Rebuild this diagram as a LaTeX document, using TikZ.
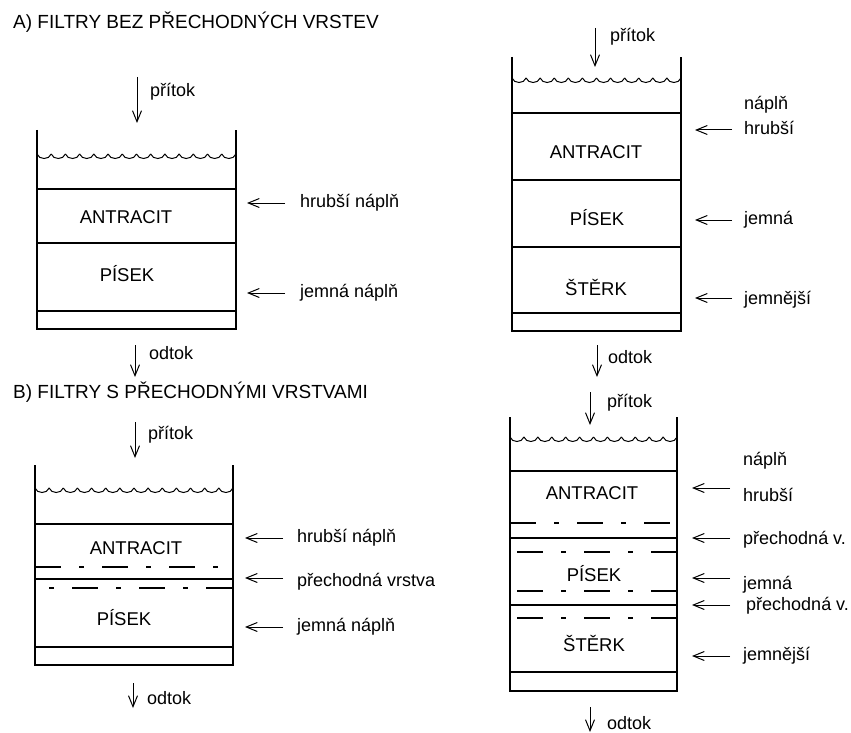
\documentclass[tikz,border=0pt]{standalone}
\usepackage{fontspec}
\setmainfont{Liberation Sans}
\usetikzlibrary{arrows.meta}
\begin{document}
\begin{tikzpicture}[x=1pt,y=-1pt,
  txt/.style={font=\fontsize{18}{20}\selectfont, inner sep=0pt, anchor=west},
  ttl/.style={font=\fontsize{19}{21}\selectfont, inner sep=0pt, anchor=west},
  layer/.style={font=\fontsize{18.5}{20}\selectfont, inner sep=0pt},
  wall/.style={line width=1.3pt, line join=miter},
  sepline/.style={line width=1.1pt},
  wavy/.style={line width=1pt},
  trans/.style={line width=1.1pt, dash pattern=on 26pt off 18pt on 5pt off 18pt},
  flow/.style={line width=1pt, -{Straight Barb[length=11pt,width=9pt]}},
]
\useasboundingbox[fill=white] (0,0) rectangle (851,733);

% ---------- titles ----------
\node[ttl] (titA) at (13,22) {A) FILTRY BEZ PŘECHODNÝCH VRSTEV};
\node[ttl] (titB) at (13,392) {B) FILTRY S PŘECHODNÝMI VRSTVAMI};

% ========== top-left filter ==========
\draw[wall] (37,130) -- (37,329) -- (236,329) -- (236,130);
\foreach \i in {0,...,13}
  \draw[wavy] ({37+\i*14.21},154) .. controls +(2,6) and +(-2,6) .. ({37+(\i+1)*14.21},154);
\draw[sepline] (37,189) -- (236,189);
\draw[sepline] (37,243) -- (236,243);
\draw[sepline] (37,311) -- (236,311);
\node[layer] (tlA) at (126,217) {ANTRACIT};
\node[layer] (tlP) at (127,274) {PÍSEK};
\coordinate (tlIn1) at (137,77); \coordinate (tlIn2) at (137,123);
\draw[flow] (tlIn1) -- (tlIn2);
\node[txt] (tlInT) at (150,92) {přítok};
\coordinate (tlOut1) at (135,345); \coordinate (tlOut2) at (135,377);
\draw[flow] (tlOut1) -- (tlOut2);
\node[txt] (tlOutT) at (149,353) {odtok};
\coordinate (tlL1s) at (285,203); \coordinate (tlL1e) at (247,203);
\draw[flow] (tlL1s) -- (tlL1e);
\node[txt] (tlL1) at (300,203) {hrubší náplň};
\coordinate (tlL2s) at (285,293); \coordinate (tlL2e) at (247,293);
\draw[flow] (tlL2s) -- (tlL2e);
\node[txt] (tlL2) at (300,293) {jemná náplň};

% ========== top-right filter ==========
\draw[wall] (512,57) -- (512,331) -- (681,331) -- (681,57);
\foreach \i in {0,...,11}
  \draw[wavy] ({512+\i*14.08},78) .. controls +(2,6) and +(-2,6) .. ({512+(\i+1)*14.08},78);
\draw[sepline] (512,113) -- (681,113);
\draw[sepline] (512,180) -- (681,180);
\draw[sepline] (512,247) -- (681,247);
\draw[sepline] (512,313) -- (681,313);
\node[layer] (trA) at (596,152) {ANTRACIT};
\node[layer] (trP) at (597,218) {PÍSEK};
\node[layer] (trS) at (596,288) {ŠTĚRK};
\coordinate (trIn1) at (595,28); \coordinate (trIn2) at (595,67);
\draw[flow] (trIn1) -- (trIn2);
\node[txt] (trInT) at (610,37) {přítok};
\coordinate (trOut1) at (597,345); \coordinate (trOut2) at (597,377);
\draw[flow] (trOut1) -- (trOut2);
\node[txt] (trOutT) at (608,357) {odtok};
\node[txt] (trL0) at (744,105) {náplň};
\coordinate (trL1s) at (732,130); \coordinate (trL1e) at (695,130);
\draw[flow] (trL1s) -- (trL1e);
\node[txt] (trL1) at (744,128) {hrubší};
\coordinate (trL2s) at (732,220); \coordinate (trL2e) at (695,220);
\draw[flow] (trL2s) -- (trL2e);
\node[txt] (trL2) at (744,220) {jemná};
\coordinate (trL3s) at (732,298); \coordinate (trL3e) at (695,298);
\draw[flow] (trL3s) -- (trL3e);
\node[txt] (trL3) at (744,300) {jemnější};

% ========== bottom-left filter ==========
\draw[wall] (35,465) -- (35,665) -- (233,665) -- (233,465);
\foreach \i in {0,...,13}
  \draw[wavy] ({35+\i*14.14},488) .. controls +(2,6) and +(-2,6) .. ({35+(\i+1)*14.14},488);
\draw[sepline] (35,524) -- (233,524);
\draw[trans] (35,567) -- (233,567);
\draw[sepline] (35,579) -- (233,579);
\draw[trans, dash phase=30pt] (35,588) -- (233,588);
\draw[sepline] (35,647) -- (233,647);
\node[layer] (blA) at (136,548) {ANTRACIT};
\node[layer] (blP) at (124,618) {PÍSEK};
\coordinate (blIn1) at (135,422); \coordinate (blIn2) at (135,458);
\draw[flow] (blIn1) -- (blIn2);
\node[txt] (blInT) at (148,435) {přítok};
\coordinate (blOut1) at (133,683); \coordinate (blOut2) at (133,708);
\draw[flow] (blOut1) -- (blOut2);
\node[txt] (blOutT) at (147,698) {odtok};
\coordinate (blL1s) at (283,538); \coordinate (blL1e) at (245,538);
\draw[flow] (blL1s) -- (blL1e);
\node[txt] (blL1) at (297,538) {hrubší náplň};
\coordinate (blL2s) at (283,578); \coordinate (blL2e) at (245,578);
\draw[flow] (blL2s) -- (blL2e);
\node[txt] (blL2) at (297,582) {přechodná vrstva};
\coordinate (blL3s) at (283,627); \coordinate (blL3e) at (245,627);
\draw[flow] (blL3s) -- (blL3e);
\node[txt] (blL3) at (297,627) {jemná náplň};

% ========== bottom-right filter ==========
\draw[wall] (510,417) -- (510,691) -- (677,691) -- (677,417);
\foreach \i in {0,...,11}
  \draw[wavy] ({510+\i*13.92},437) .. controls +(2,6) and +(-2,6) .. ({510+(\i+1)*13.92},437);
\draw[sepline] (510,471) -- (677,471);
\draw[trans] (510,523) -- (677,523);
\draw[sepline] (510,538) -- (677,538);
\draw[trans, dash phase=60pt] (510,552) -- (677,552);
\draw[trans, dash phase=60pt] (510,591) -- (677,591);
\draw[sepline] (510,605) -- (677,605);
\draw[trans, dash phase=60pt] (510,618) -- (677,618);
\draw[sepline] (510,672) -- (677,672);
\node[layer] (brA) at (592,493) {ANTRACIT};
\node[layer] (brP) at (594,574) {PÍSEK};
\node[layer] (brS) at (594,643) {ŠTĚRK};
\coordinate (brIn1) at (590,392); \coordinate (brIn2) at (590,425);
\draw[flow] (brIn1) -- (brIn2);
\node[txt] (brInT) at (607,403) {přítok};
\coordinate (brOut1) at (590,707); \coordinate (brOut2) at (590,732);
\draw[flow] (brOut1) -- (brOut2);
\node[txt] (brOutT) at (607,723) {odtok};
\node[txt] (brL0) at (743,461) {náplň};
\coordinate (brL1s) at (730,488); \coordinate (brL1e) at (692,488);
\draw[flow] (brL1s) -- (brL1e);
\node[txt] (brL1) at (743,495) {hrubší};
\coordinate (brL2s) at (730,538); \coordinate (brL2e) at (692,538);
\draw[flow] (brL2s) -- (brL2e);
\node[txt] (brL2) at (743,540) {přechodná v.};
\coordinate (brL3s) at (730,578); \coordinate (brL3e) at (692,578);
\draw[flow] (brL3s) -- (brL3e);
\node[txt] (brL3) at (743,585) {jemná};
\coordinate (brL4s) at (730,605); \coordinate (brL4e) at (692,605);
\draw[flow] (brL4s) -- (brL4e);
\node[txt] (brL4) at (746,606) {přechodná v.};
\coordinate (brL5s) at (730,656); \coordinate (brL5e) at (692,656);
\draw[flow] (brL5s) -- (brL5e);
\node[txt] (brL5) at (743,656) {jemnější};
\end{tikzpicture}
\end{document}
